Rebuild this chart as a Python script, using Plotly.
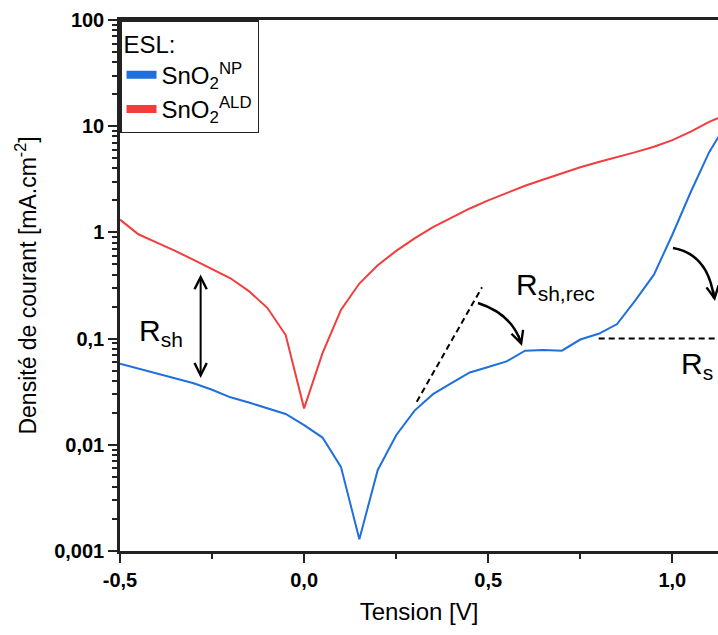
import math
import plotly.graph_objects as go

# ---------------- data ----------------
voltage = [-0.50, -0.45, -0.40, -0.35, -0.30, -0.25, -0.20, -0.15, -0.10, -0.05,
           0.00, 0.05, 0.10, 0.15, 0.20, 0.25, 0.30, 0.35, 0.40, 0.45,
           0.50, 0.55, 0.60, 0.65, 0.70, 0.75, 0.80, 0.85, 0.90, 0.95,
           1.00, 1.05, 1.10, 1.15]

j_np = [0.058, 0.052, 0.047, 0.042, 0.038, 0.033, 0.028, 0.025, 0.022, 0.0195,
        0.0153, 0.0117, 0.0062, 0.00129, 0.0058, 0.0123, 0.021, 0.030, 0.038, 0.048,
        0.054, 0.061, 0.077, 0.078, 0.077, 0.098, 0.111, 0.137, 0.23, 0.40,
        0.95, 2.4, 5.7, 11.0]

j_ald = [1.32, 0.96, 0.80, 0.67, 0.55, 0.45, 0.37, 0.28, 0.195, 0.108,
         0.022, 0.073, 0.186, 0.33, 0.49, 0.67, 0.88, 1.12, 1.38, 1.68,
         2.0, 2.35, 2.75, 3.15, 3.6, 4.1, 4.6, 5.1, 5.7, 6.4,
         7.4, 8.9, 11.0, 13.0]

series_names = ["SnO<sub>2</sub><sup>NP</sup>", "SnO<sub>2</sub><sup>ALD</sup>"]
legend_title = "ESL:"

x_tickvals = [-0.5, 0.0, 0.5, 1.0]
x_ticktext = ["-0,5", "0,0", "0,5", "1,0"]
x_minor = [-0.25, 0.25, 0.75]

y_tickvals = [0.001, 0.01, 0.1, 1, 10, 100]
y_ticktext = ["0,001", "0,01", "0,1", "1", "10", "100"]
y_minor = [m * d for d in [0.001, 0.01, 0.1, 1, 10] for m in range(2, 10)]

# guide lines (annotations on the chart)
rshrec_v = [0.306, 0.483]
rshrec_j = [0.0255, 0.304]
rs_v = [0.80, 1.20]
rs_j = [0.1, 0.1]
rsh_arrow_v = -0.281
rsh_arrow_j = [0.0426, 0.415]

BLUE = "#1f6fdc"
RED = "#f43c3c"
FONT = "Liberation Sans, Arial, sans-serif"

W, H = 718, 635
L, R, T, B = 120, 0, 20, 84


def pxx(x):
    # screen pixel -> paper fraction
    return (x - L) / (W - L - R)


def pxy(y):
    return (H - B - y) / (H - B - T)


fig = go.Figure()

fig.add_trace(go.Scatter(x=voltage, y=j_ald, mode="lines",
                         line=dict(color=RED, width=2), showlegend=False))
fig.add_trace(go.Scatter(x=voltage, y=j_np, mode="lines",
                         line=dict(color=BLUE, width=2), showlegend=False))

# legend-only entries with thick symbols
fig.add_trace(go.Scatter(x=[None], y=[None], mode="lines", name=series_names[0],
                         line=dict(color=BLUE, width=8)))
fig.add_trace(go.Scatter(x=[None], y=[None], mode="lines", name=series_names[1],
                         line=dict(color=RED, width=8)))

# dashed guide lines
fig.add_trace(go.Scatter(x=rshrec_v, y=rshrec_j, mode="lines", showlegend=False,
                         line=dict(color="black", width=2, dash="6px,4px")))
fig.add_trace(go.Scatter(x=rs_v, y=rs_j, mode="lines", showlegend=False,
                         line=dict(color="black", width=2, dash="6px,4px")))

label_font = dict(family=FONT, size=30, color="black")
annotations = [
    # R_sh double arrow
    dict(x=rsh_arrow_v, y=math.log10(rsh_arrow_j[0]), xref="x", yref="y",
         ax=rsh_arrow_v, ay=math.log10(rsh_arrow_j[1]), axref="x", ayref="y",
         text="", showarrow=True, arrowhead=5, startarrowhead=5,
         arrowside="end+start", arrowwidth=2, arrowsize=1.2, startarrowsize=1.2,
         arrowcolor="black"),
    dict(x=pxx(161), y=pxy(333), xref="paper", yref="paper",
         xanchor="center", yanchor="middle",
         text="R<sub>sh</sub>", showarrow=False, font=label_font),
    dict(x=pxx(555), y=pxy(286), xref="paper", yref="paper",
         xanchor="center", yanchor="middle",
         text="R<sub>sh,rec</sub>", showarrow=False, font=label_font),
    dict(x=pxx(697), y=pxy(366), xref="paper", yref="paper",
         xanchor="center", yanchor="middle",
         text="R<sub>s</sub>", showarrow=False, font=label_font),
    # arrowheads of curved arrows
    dict(x=pxx(522), y=pxy(346), xref="paper", yref="paper",
         ax=-4, ay=-12, text="", showarrow=True, arrowhead=5,
         arrowwidth=2, arrowsize=1.2, arrowcolor="black"),
    dict(x=pxx(715), y=pxy(301), xref="paper", yref="paper",
         ax=-2, ay=-12, text="", showarrow=True, arrowhead=5,
         arrowwidth=2, arrowsize=1.2, arrowcolor="black"),
]

shapes = [
    dict(type="path", xref="paper", yref="paper",
         path=f"M {pxx(478)},{pxy(303)} Q {pxx(512)},{pxy(314)} {pxx(521)},{pxy(343)}",
         line=dict(color="black", width=2.5)),
    dict(type="path", xref="paper", yref="paper",
         path=f"M {pxx(673)},{pxy(248)} Q {pxx(708)},{pxy(254)} {pxx(714)},{pxy(298)}",
         line=dict(color="black", width=2.5)),
]

fig.update_layout(
    width=W, height=H,
    margin=dict(l=L, r=R, t=T, b=B, pad=0),
    paper_bgcolor="white", plot_bgcolor="white",
    font=dict(family=FONT, color="black"),
    annotations=annotations,
    shapes=shapes,
    legend=dict(
        x=0, y=1, xanchor="left", yanchor="top",
        bgcolor="white", bordercolor="#222", borderwidth=1.5,
        font=dict(family=FONT, size=24, color="black"),
        title=dict(text=legend_title, font=dict(family=FONT, size=24)),
        itemwidth=30, tracegroupgap=0,
    ),
    xaxis=dict(
        range=[-0.5, 1.124], showgrid=False, zeroline=False,
        showline=True, linecolor="#222", linewidth=2.5, mirror=True,
        ticks="outside", ticklen=9, tickwidth=2, tickcolor="#222",
        tickmode="array", tickvals=x_tickvals, ticktext=x_ticktext,
        tickfont=dict(family=FONT, size=20, color="black", weight="bold"),
        minor=dict(tickmode="array", tickvals=x_minor, ticks="outside",
                   ticklen=5, tickwidth=2, tickcolor="#222"),
        title=dict(text="Tension [V]", font=dict(family=FONT, size=24),
                   standoff=14),
    ),
    yaxis=dict(
        type="log", range=[-3, 2], showgrid=False, zeroline=False,
        showline=True, linecolor="#222", linewidth=2.5, mirror=False,
        ticks="outside", ticklen=9, tickwidth=2, tickcolor="#222",
        tickmode="array", tickvals=y_tickvals, ticktext=y_ticktext,
        tickfont=dict(family=FONT, size=20, color="black", weight="bold"),
        minor=dict(tickmode="array", tickvals=y_minor, ticks="outside",
                   ticklen=5, tickwidth=1.5, tickcolor="#222"),
        title=dict(text="Densité de courant [mA.cm<sup>-2</sup>]",
                   font=dict(family=FONT, size=23), standoff=12),
    ),
)

fig.write_html(
    "out.html",
    config={"displayModeBar": False},
    post_script="document.body.style.margin='0';document.body.style.overflow='hidden';",
)
